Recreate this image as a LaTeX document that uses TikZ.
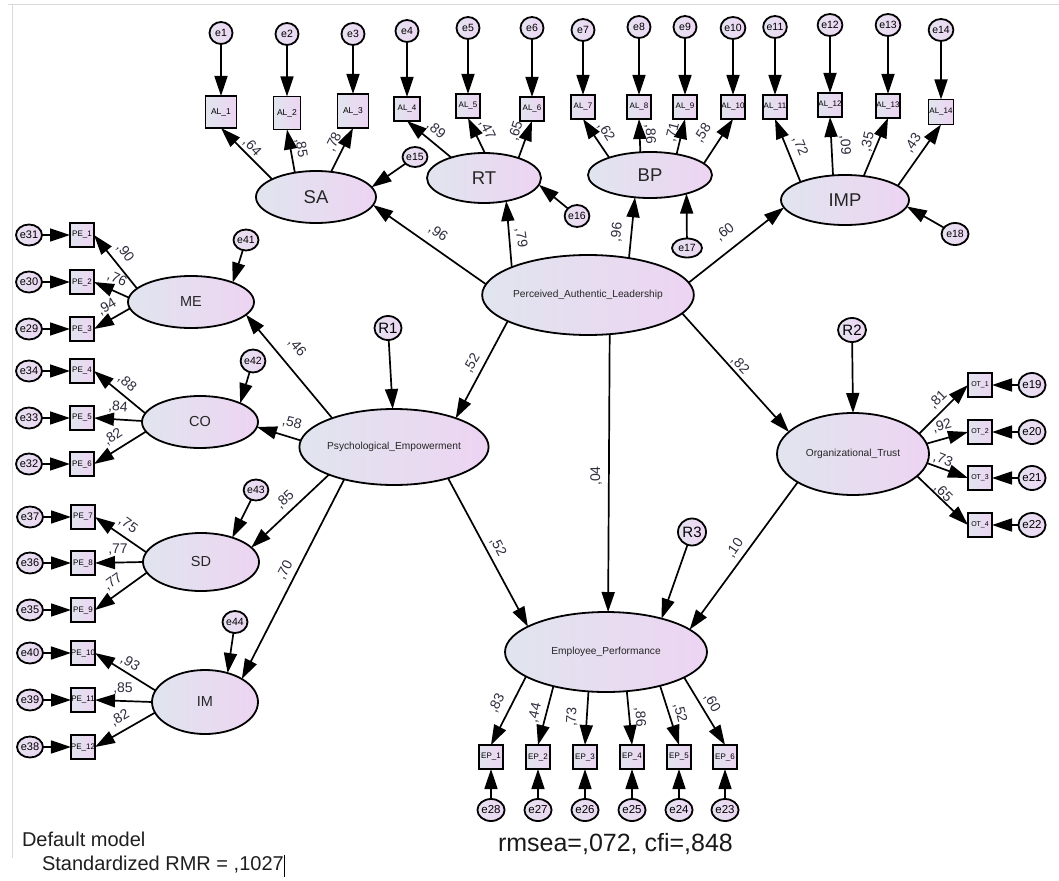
\documentclass[tikz,border=0pt]{standalone}
\usepackage{fontspec}
\setmainfont{Liberation Sans}
\usetikzlibrary{arrows.meta,shapes.geometric}
\definecolor{fillL}{RGB}{224,229,238}
\definecolor{fillR}{RGB}{237,212,242}
\definecolor{errL}{RGB}{230,226,240}
\definecolor{errR}{RGB}{236,214,242}
\definecolor{lblc}{RGB}{45,45,62}
\begin{document}
\begin{tikzpicture}[x=1pt,y=-1pt,
 every node/.style={inner sep=0pt,outer sep=0pt},
 lat/.style={ellipse,draw,line width=1.8pt,left color=fillL,right color=fillR,text=black!85},
 obs/.style={rectangle,draw,line width=1.8pt,minimum width=24pt,minimum height=24pt,left color=fillL,right color=fillR,font=\fontsize{8}{8}\selectfont},
 err/.style={ellipse,draw,line width=1.8pt,left color=errL,right color=errR,minimum width=23pt,minimum height=22pt,font=\fontsize{10.5}{10.5}\selectfont},
 pth/.style={line width=1.7pt,-{Triangle[length=20pt,width=13pt]}},
 lbl/.style={font=\fontsize{14}{14}\selectfont,text=lblc},
 big/.style={font=\fontsize{18.5}{18.5}\selectfont},
 mid/.style={font=\fontsize{14.5}{14.5}\selectfont},
 sml/.style={font=\fontsize{10.2}{10.2}\selectfont},
 res/.style={err,minimum width=27pt,minimum height=24pt,font=\fontsize{15}{15}\selectfont},
 lerr/.style={err,minimum width=24pt,minimum height=21pt,font=\fontsize{11}{11}\selectfont},
 berr/.style={err,minimum width=26pt,minimum height=22pt,font=\fontsize{11.5}{11.5}\selectfont},
 rerr/.style={err,minimum width=24pt,minimum height=24pt,font=\fontsize{11.5}{11.5}\selectfont}
]
\fill[white] (0,0) rectangle (1059,880);
\useasboundingbox (0,0) rectangle (1059,880);
\draw[black!15,line width=0.8pt] (8,4) -- (1059,4);
\draw[black!15,line width=0.8pt] (12,4) -- (12,858);

% ---------- latent variables
\node[lat,big,minimum width=120pt,minimum height=52pt] (SA) at (316,197) {SA};
\node[lat,big,minimum width=114pt,minimum height=50pt] (RT) at (484,178) {RT};
\node[lat,big,minimum width=124pt,minimum height=46pt] (BP) at (650,175) {BP};
\node[lat,big,minimum width=128pt,minimum height=50pt] (IMP) at (845,200) {IMP};
\node[lat,sml,minimum width=192pt,minimum height=80pt] (PAL) at (588,295) {Perceived\_Authentic\_Leadership};
\node[lat,sml,minimum width=156pt,minimum height=76pt] (PE) at (394,447) {Psychological\_Empowerment};
\node[lat,sml,minimum width=152pt,minimum height=82pt] (OT) at (853,454) {Organizational\_Trust};
\node[lat,sml,minimum width=202pt,minimum height=80pt] (EP) at (606,652) {Employee\_Performance};
\node[lat,mid,minimum width=126pt,minimum height=52pt] (ME) at (191,302) {ME};
\node[lat,mid,minimum width=116pt,minimum height=52pt] (CO) at (200,422) {CO};
\node[lat,mid,minimum width=116pt,minimum height=58pt] (SD) at (201,562) {SD};
\node[lat,mid,minimum width=106pt,minimum height=64pt] (IM) at (205,702) {IM};

% ---------- top indicators
\node[obs,minimum width=31pt,minimum height=32pt,font=\fontsize{8.5}{8.5}\selectfont] (AL1) at (221,112) {AL\_1};
\node[obs,minimum width=27pt,minimum height=33pt,font=\fontsize{8.5}{8.5}\selectfont] (AL2) at (287,113) {AL\_2};
\node[obs,minimum width=31pt,minimum height=34pt,font=\fontsize{8.5}{8.5}\selectfont] (AL3) at (353,111) {AL\_3};
\node[obs,minimum width=26pt] (AL4) at (407,109) {AL\_4};
\node[obs] (AL5) at (468,106) {AL\_5};
\node[obs] (AL6) at (532,109) {AL\_6};
\node[obs] (AL7) at (583,107) {AL\_7};
\node[obs] (AL8) at (639,107) {AL\_8};
\node[obs] (AL9) at (685,107) {AL\_9};
\node[obs] (AL10) at (733,107) {AL\_10};
\node[obs] (AL11) at (775,107) {AL\_11};
\node[obs] (AL12) at (830,105) {AL\_12};
\node[obs] (AL13) at (888,106) {AL\_13};
\node[obs,minimum width=25pt,minimum height=25pt] (AL14) at (941,112) {AL\_14};

\node[err] (e1) at (221,33) {e1};
\node[err] (e2) at (287,34) {e2};
\node[err] (e3) at (353,34) {e3};
\node[err] (e4) at (407,31) {e4};
\node[err] (e5) at (468,28) {e5};
\node[err] (e6) at (532,28) {e6};
\node[err] (e7) at (583,30) {e7};
\node[err] (e8) at (639,27) {e8};
\node[err] (e9) at (685,27) {e9};
\node[err] (e10) at (733,28) {e10};
\node[err] (e11) at (775,27) {e11};
\node[err] (e12) at (830,25) {e12};
\node[err] (e13) at (888,25) {e13};
\node[err] (e14) at (941,30) {e14};

\node[err,minimum width=25pt,minimum height=20pt] (e15) at (415,157) {e15};
\node[err] (e16) at (577,216) {e16};
\node[err,minimum width=30pt,minimum height=19pt] (e17) at (687,248) {e17};
\node[err,minimum width=27pt,minimum height=22pt] (e18) at (955,234) {e18};

% ---------- left indicators
\node[obs] (PE1) at (82,235) {PE\_1};
\node[obs] (PE2) at (82,282) {PE\_2};
\node[obs] (PE3) at (82,329) {PE\_3};
\node[obs] (PE4) at (82,371) {PE\_4};
\node[obs] (PE5) at (82,418) {PE\_5};
\node[obs] (PE6) at (82,464) {PE\_6};
\node[obs] (PE7) at (83,517) {PE\_7};
\node[obs] (PE8) at (83,563) {PE\_8};
\node[obs] (PE9) at (83,610) {PE\_9};
\node[obs] (PE10) at (83,653) {PE\_10};
\node[obs] (PE11) at (83,700) {PE\_11};
\node[obs] (PE12) at (83,747) {PE\_12};

\node[lerr] (e31) at (29,235) {e31};
\node[lerr] (e30) at (29,282) {e30};
\node[lerr] (e29) at (29,329) {e29};
\node[lerr] (e34) at (29,371) {e34};
\node[lerr] (e33) at (29,418) {e33};
\node[lerr] (e32) at (29,464) {e32};
\node[lerr] (e37) at (30,517) {e37};
\node[lerr] (e36) at (30,563) {e36};
\node[lerr] (e35) at (30,610) {e35};
\node[lerr] (e40) at (30,653) {e40};
\node[lerr] (e39) at (30,700) {e39};
\node[lerr] (e38) at (30,747) {e38};

\node[err,minimum width=25pt,minimum height=21pt] (e41) at (246,240) {e41};
\node[err,minimum width=22pt,minimum height=23pt] (e42) at (253,361) {e42};
\node[err,minimum width=23pt,minimum height=21pt] (e43) at (256,490) {e43};
\node[err,minimum width=25pt,minimum height=22pt] (e44) at (235,622) {e44};

% ---------- right indicators
\node[obs,font=\fontsize{7}{7}\selectfont] (OT1) at (980,385) {OT\_1};
\node[obs,font=\fontsize{7}{7}\selectfont] (OT2) at (980,432) {OT\_2};
\node[obs,font=\fontsize{7}{7}\selectfont] (OT3) at (980,478) {OT\_3};
\node[obs,font=\fontsize{7}{7}\selectfont] (OT4) at (980,525) {OT\_4};
\node[rerr] (e19) at (1032,385) {e19};
\node[rerr] (e20) at (1032,432) {e20};
\node[rerr] (e21) at (1032,478) {e21};
\node[rerr] (e22) at (1032,525) {e22};

% ---------- bottom indicators
\node[obs] (EP1) at (491,757) {EP\_1};
\node[obs] (EP2) at (538,757) {EP\_2};
\node[obs] (EP3) at (585,757) {EP\_3};
\node[obs] (EP4) at (632,757) {EP\_4};
\node[obs] (EP5) at (679,757) {EP\_5};
\node[obs] (EP6) at (725,757) {EP\_6};
\node[berr] (e28) at (491,810) {e28};
\node[berr] (e27) at (538,810) {e27};
\node[berr] (e26) at (585,810) {e26};
\node[berr] (e25) at (632,810) {e25};
\node[berr] (e24) at (679,810) {e24};
\node[berr] (e23) at (725,810) {e23};

% ---------- residuals
\node[res] (R1) at (388,328) {R1};
\node[res,minimum width=28pt] (R2) at (852,330) {R2};
\node[res,minimum width=28pt,minimum height=27pt] (R3) at (692,532) {R3};

% ---------- error arrows
\foreach \e/\o in {e1/AL1,e2/AL2,e3/AL3,e4/AL4,e5/AL5,e6/AL6,e7/AL7,e8/AL8,e9/AL9,e10/AL10,e11/AL11,e12/AL12,e13/AL13,e14/AL14,
  e31/PE1,e30/PE2,e29/PE3,e34/PE4,e33/PE5,e32/PE6,e37/PE7,e36/PE8,e35/PE9,e40/PE10,e39/PE11,e38/PE12,
  e19/OT1,e20/OT2,e21/OT3,e22/OT4,e28/EP1,e27/EP2,e26/EP3,e25/EP4,e24/EP5,e23/EP6}
  {\draw[pth] (\e) -- (\o);}

% ---------- loadings
\draw[pth] (SA.158) -- (AL1.south);
\draw[pth] (SA.131) -- (AL2.south);
\draw[pth] (SA.59) -- (AL3.south);
\draw[pth] (RT.148) -- (AL4.south);
\draw[pth] (RT.88) -- (AL5.south);
\draw[pth] (RT.30) -- (AL6.south);
\draw[pth] (BP.157) -- (AL7.south);
\draw[pth] (BP.113) -- (AL8.south);
\draw[pth] (BP.38) -- (AL9.south);
\draw[pth] (BP.12) -- (AL10.south);
\draw[pth] (IMP.158) -- (AL11.south);
\draw[pth] (IMP.116) -- (AL12.south);
\draw[pth] (IMP.52) -- (AL13.south);
\draw[pth] (IMP.15) -- (AL14.south);

\draw[pth] (ME.166) -- (PE1.east);
\draw[pth] (ME.176) -- (PE2.east);
\draw[pth] (ME.186) -- (PE3.east);
\draw[pth] (CO.171) -- (PE4.east);
\draw[pth] (CO.179) -- (PE5.east);
\draw[pth] (CO.190) -- (PE6.east);
\draw[pth] (SD.170) -- (PE7.east);
\draw[pth] (SD.180) -- (PE8.east);
\draw[pth] (SD.191) -- (PE9.east);
\draw[pth] (IM.167) -- (PE10.east);
\draw[pth] (IM.180) -- (PE11.east);
\draw[pth] (IM.192) -- (PE12.east);

\draw[pth] (OT.17) -- (OT1.west);
\draw[pth] (OT.8) -- (OT2.west);
\draw[pth] (OT.353) -- (OT3.west);
\draw[pth] (OT.341) -- (OT4.west);

\draw[pth] (EP.197) -- (EP1.north);
\draw[pth] (EP.213) -- (EP2.north);
\draw[pth] (EP.246) -- (EP3.north);
\draw[pth] (EP.298) -- (EP4.north);
\draw[pth] (EP.328) -- (EP5.north);
\draw[pth] (EP.342) -- (EP6.north);

% ---------- structural paths
\draw[pth] (PAL.174) -- (SA.352);
\draw[pth] (PAL.160) -- (RT.314);
\draw[pth] (PAL.42) -- (BP.236);
\draw[pth] (PAL.7) -- (IMP.187);
\draw[pth] (PAL.198) -- (PE.25);
\draw[pth] (PAL.299) -- (EP.87);
\draw[pth] (PAL.349) -- (OT.161);
\draw[pth] (PE.330) -- (EP.162);
\draw[pth] (OT.207) -- (EP.15);
\draw[pth] (PE.155) -- (ME.347);
\draw[pth] (PE.176) -- (CO.355);
\draw[pth] (PE.203) -- (SD.16);
\draw[pth] (PE.213) -- (IM.32);

% ---------- disturbances
\draw[pth] (e15) -- (SA.10);
\draw[pth] (e16) -- (RT.353);
\draw[pth] (e17) -- (BP.333);
\draw[pth] (e18) -- (IMP.354);
\draw[pth] (R1) -- (PE.92);
\draw[pth] (R2) -- (OT.90);
\draw[pth] (R3) -- (EP.31);
\draw[pth] (e41) -- (ME.25);
\draw[pth] (e42) -- (CO.25);
\draw[pth] (e43) -- (SD.38);
\draw[pth] (e44) -- (IM.52);

% ---------- coefficient labels
\node[lbl,rotate=-47] (l1) at (252,147) {,64};
\node[lbl,rotate=-81] (l2) at (301,148) {,85};
\node[lbl,rotate=64] (l3) at (334,142) {,78};
\node[lbl,rotate=-40] (l4) at (436,130) {,89};
\node[lbl,rotate=-64] (l5) at (487,130) {,47};
\node[lbl,rotate=72] (l6) at (516,131) {,65};
\node[lbl,rotate=-58] (l7) at (606,132) {,62};
\node[lbl,rotate=-88] (l8) at (650,134) {,86};
\node[lbl,rotate=76] (l9) at (673,132) {,71};
\node[lbl,rotate=57] (l10) at (703,133) {,58};
\node[lbl,rotate=-68] (l11) at (800,146) {,72};
\node[lbl,rotate=-87] (l12) at (845,145) {,09};
\node[lbl,rotate=78] (l13) at (868,142) {,35};
\node[lbl,rotate=56] (l14) at (913,143) {,43};
\node[lbl,rotate=-34] (s1) at (438,233) {,96};
\node[lbl,rotate=-82] (s2) at (521,238) {,79};
\node[lbl,rotate=84] (s3) at (617,232) {,96};
\node[lbl,rotate=37] (s4) at (725,232) {,60};
\node[lbl,rotate=60] (s5) at (472,363) {,52};
\node[lbl,rotate=90] (s6) at (596,476) {,04};
\node[lbl,rotate=-47] (s7) at (740,365) {,82};
\node[lbl,rotate=-50] (s8) at (297,347) {,46};
\node[lbl,rotate=-14] (s9) at (292,423) {,58};
\node[lbl,rotate=43] (s10) at (285,500) {,85};
\node[lbl,rotate=62] (s11) at (285,570) {,70};
\node[lbl,rotate=-62] (s12) at (498,547) {,52};
\node[lbl,rotate=55] (s13) at (735,548) {,10};
\node[lbl,rotate=45] (o1) at (938,400) {,81};
\node[lbl,rotate=16] (o2) at (942,426) {,92};
\node[lbl,rotate=-21] (o3) at (943,460) {,73};
\node[lbl,rotate=-45] (o4) at (943,493) {,65};
\node[lbl,rotate=-54] (p1) at (125,253) {,90};
\node[lbl,rotate=-25] (p2) at (117,279) {,76};
\node[lbl,rotate=31] (p3) at (107,307) {,94};
\node[lbl,rotate=-41] (p4) at (127,383) {,88};
\node[lbl,rotate=-4] (p5) at (118,407) {,84};
\node[lbl,rotate=34] (p6) at (113,437) {,82};
\node[lbl,rotate=-35] (p7) at (128,525) {,75};
\node[lbl] (p8) at (118,550) {,77};
\node[lbl,rotate=36] (p9) at (113,582) {,77};
\node[lbl,rotate=-32] (p10) at (130,663) {,93};
\node[lbl] (p11) at (123,688) {,85};
\node[lbl,rotate=30] (p12) at (120,718) {,82};
\node[lbl,rotate=63] (q1) at (497,703) {,83};
\node[lbl,rotate=77] (q2) at (535,713) {,44};
\node[lbl,rotate=87] (q3) at (572,717) {,73};
\node[lbl,rotate=-86] (q4) at (640,717) {,86};
\node[lbl,rotate=-76] (q5) at (680,713) {,52};
\node[lbl,rotate=-61] (q6) at (712,703) {,60};

% ---------- fit text
\node[anchor=base west,font=\fontsize{25}{25}\selectfont,text=black!90] (fit) at (498,851) {rmsea=,072, cfi=,848};
\node[anchor=base west,font=\fontsize{20}{20}\selectfont,text=black!88] (dm) at (22,846) {Default model};
\node[anchor=base west,font=\fontsize{20}{20}\selectfont,text=black!88] (rmr) at (42,870) {Standardized RMR = ,1027};
\draw[line width=1pt] (rmr.north east) ++(1,-1) coordinate (cur) -- ++(0,22);
\end{tikzpicture}
\end{document}
